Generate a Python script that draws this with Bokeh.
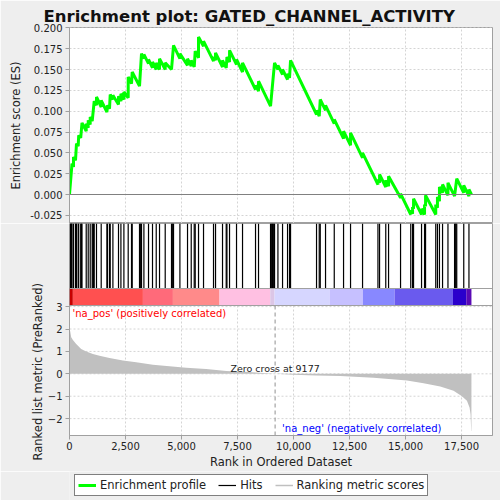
from bokeh.plotting import figure
from bokeh.models import (Range1d, FixedTicker, NumeralTickFormatter, Grid, Label,
                          Legend, Span, Title)
from bokeh.layouts import column
from bokeh.embed import file_html
from bokeh.resources import INLINE

# ---------------- data ----------------
title_text = "Enrichment plot: GATED_CHANNEL_ACTIVITY"
n_genes = 17940
zero_cross = 9177

hit_ranks = [45, 67, 89, 112, 179, 268, 290, 312, 388, 411, 500, 531, 558, 746, 835,
             924, 1013, 1045, 1071, 1103, 1205, 1415, 1670, 1696, 1786, 1817, 1937,
             2187, 2295, 2428, 2620, 2768, 2799, 3125, 3156, 3187, 3214, 3321, 3527,
             3705, 3871, 4018, 4272, 4553, 4585, 4616, 4643, 4928, 5268, 5433, 5567,
             5611, 5759, 5982, 6428, 6518, 6830, 6995, 7027, 7143, 7455, 7723, 8303,
             8437, 8973, 9004, 9035, 9062, 9093, 9125, 9152, 9303, 9509, 9732, 9821,
             9866, 11026, 11147, 11192, 11428, 11817, 12232, 12544, 13080, 13767,
             13839, 14116, 14241, 14776, 15231, 15312, 15356, 15713, 15847, 15892,
             16347, 16423, 16512, 16651, 16892, 17187, 17218, 17249, 17284, 17597,
             17829]

es_ranks = [0, 112, 179, 179, 268, 312, 388, 411, 500, 558, 746, 746, 835, 835, 924, 924,
            1013, 1103, 1205, 1205, 1415, 1415, 1670, 1696, 1786, 1817, 1937, 1937,
            2187, 2187, 2295, 2295, 2428, 2428, 2620, 2620, 2768, 2799, 3125, 3214,
            3321, 3321, 3527, 3527, 3705, 3705, 3871, 3871, 4018, 4018, 4272, 4272,
            4553, 4643, 4928, 4928, 5268, 5268, 5433, 5433, 5567, 5611, 5759, 5759,
            5982, 5982, 6428, 6428, 6518, 6518, 6830, 6830, 6995, 7027, 7143, 7143,
            7455, 7455, 7723, 7723, 8303, 8303, 8437, 8437, 8973, 9152, 9303, 9303,
            9509, 9509, 9732, 9732, 9821, 9866, 11026, 11026, 11147, 11192, 11428,
            11428, 11817, 11817, 12232, 12232, 12544, 12544, 13080, 13080, 13767,
            13767, 13839, 13839, 14116, 14116, 14241, 14241, 14776, 14776, 15231,
            15231, 15312, 15312, 15356, 15356, 15713, 15713, 15847, 15847, 15892,
            15892, 16347, 16347, 16423, 16423, 16512, 16512, 16651, 16651, 16892,
            16892, 17187, 17284, 17597, 17597, 17829, 17829, 17940]
es_values = [0.000, 0.037, 0.033, 0.045, 0.041, 0.061, 0.058, 0.071, 0.068, 0.086,
             0.076, 0.085, 0.080, 0.089, 0.084, 0.093, 0.088, 0.112, 0.107, 0.117,
             0.105, 0.113, 0.099, 0.107, 0.103, 0.120, 0.114, 0.119, 0.108, 0.118,
             0.112, 0.121, 0.114, 0.123, 0.116, 0.141, 0.133, 0.147, 0.130, 0.169,
             0.163, 0.168, 0.157, 0.162, 0.152, 0.159, 0.150, 0.158, 0.150, 0.163,
             0.150, 0.158, 0.150, 0.179, 0.163, 0.169, 0.155, 0.163, 0.154, 0.161,
             0.153, 0.172, 0.164, 0.189, 0.178, 0.184, 0.160, 0.165, 0.161, 0.170,
             0.153, 0.161, 0.152, 0.165, 0.159, 0.173, 0.156, 0.162, 0.147, 0.158,
             0.126, 0.131, 0.124, 0.136, 0.106, 0.158, 0.150, 0.155, 0.144, 0.150,
             0.138, 0.145, 0.140, 0.161, 0.096, 0.101, 0.094, 0.114, 0.101, 0.107,
             0.085, 0.090, 0.067, 0.076, 0.059, 0.074, 0.044, 0.050, 0.012, 0.018,
             0.014, 0.024, 0.009, 0.017, 0.010, 0.022, -0.004, 0.001, -0.024, -0.019,
             -0.023, -0.015, -0.017, -0.005, -0.024, -0.017, -0.024, -0.012, -0.014,
             -0.001, -0.024, -0.012, -0.016, -0.003, -0.008, 0.009, 0.002, 0.012,
             -0.001, 0.014, -0.002, 0.019, 0.002, 0.011, -0.002, 0.006, 0.000]

metric_ranks = [0, 31, 76, 152, 299, 522, 746, 1045, 1339, 1786, 2384, 2977, 3723,
                4464, 5210, 6102, 7000, 8000, 8800, 9177, 10000, 11000, 12084, 13571,
                15062, 15803, 16548, 17142, 17517, 17739, 17856, 17900, 17930, 17940]
metric_values = [1.95, 1.90, 1.63, 1.51, 1.33, 1.11, 1.00, 0.89, 0.81, 0.71, 0.59, 0.52,
                 0.41, 0.34, 0.27, 0.22, 0.13, 0.08, 0.03, 0.0, -0.04, -0.07, -0.10,
                 -0.17, -0.30, -0.42, -0.57, -0.75, -1.00, -1.20, -1.50, -1.80, -2.55,
                 -2.55]

bar_edges = [0, 150, 3277, 4616, 6696, 8959, 9152, 11607, 13098, 14509, 17115, 17710,
             17940]
bar_colors = ["#c80000", "#ff5050", "#ff6a7a", "#ff8a8a", "#ffc0e2", "#dcc6e6",
              "#d6d6ff", "#c6c0ff", "#8888ff", "#6a5aee", "#2a00cc", "#5a0ab4"]

x_ticks = [0, 2500, 5000, 7500, 10000, 12500, 15000, 17500]
es_ticks = [-0.025, 0.0, 0.025, 0.05, 0.075, 0.1, 0.125, 0.15, 0.175, 0.2]
metric_ticks = [-2, -1, 0, 1, 2, 3]
legend_labels = ["Enrichment profile", "Hits", "Ranking metric scores"]

# ---------------- style / layout ----------------
FONT = "DejaVu Sans"
BG = "#eeeeee"
EDGE = "#a0a0a0"
GRIDC = "#d4d4d4"
TXT = "#222222"
X_END = 18880
ES_LO, ES_HI = -0.0348, 0.2004
MET_LO, MET_HI = -2.753, 3.05
MET_PX, HITS_PX = 130, 82          # panel heights in the lower figure
FRAME_W = 423
LEFT = 69

xr = Range1d(0, X_END)


def style_axis(ax):
    ax.axis_line_color = EDGE
    ax.major_tick_line_color = EDGE
    ax.minor_tick_line_color = None
    ax.major_tick_in = 0
    ax.major_tick_out = 4
    ax.major_label_standoff = 3
    ax.major_label_text_font = FONT
    ax.major_label_text_font_size = "10px"
    ax.major_label_text_color = TXT
    ax.axis_label_text_font = FONT
    ax.axis_label_text_font_size = "11.5px"
    ax.axis_label_text_font_style = "normal"
    ax.axis_label_text_color = TXT
    ax.axis_label_standoff = 4


# ---- upper figure: title + running enrichment score ----
pa = figure(frame_width=FRAME_W, frame_height=196, x_range=xr,
            y_range=Range1d(ES_LO, ES_HI), x_axis_type=None,
            output_backend="svg", toolbar_location=None,
            min_border_left=LEFT, min_border_right=8, min_border_bottom=0,
            min_border_top=27, border_fill_color=BG, background_fill_color="white",
            outline_line_color=EDGE)
pa.title.text = title_text
pa.title.text_font = FONT
pa.title.text_font_size = "16.5px"
pa.title.text_font_style = "bold"
pa.title.text_color = "#111111"
pa.title.align = "left"
pa.title.offset = -26
pa.title.standoff = 4

pa.yaxis.ticker = FixedTicker(ticks=es_ticks)
pa.yaxis.formatter = NumeralTickFormatter(format="0.000")
pa.yaxis.axis_label = "Enrichment score (ES)"
style_axis(pa.yaxis[0])
pa.ygrid.ticker = FixedTicker(ticks=es_ticks)
pa.ygrid.grid_line_color = GRIDC
pa.ygrid.grid_line_dash = "2 2"
pa.add_layout(Grid(dimension=0, ticker=FixedTicker(ticks=x_ticks),
                   grid_line_color=GRIDC, grid_line_dash="2 2"))
pa.add_layout(Span(location=0, dimension="width", line_color="#808080", line_width=1))
pa.line(es_ranks, es_values, line_color="#00ff00", line_width=3)

# ---- lower figure: hits, colour bar, ranked metric ----
met_scale = MET_PX / (MET_HI - MET_LO)
pb = figure(frame_width=FRAME_W, frame_height=MET_PX + HITS_PX, x_range=xr,
            y_range=Range1d(MET_LO, MET_LO + (MET_PX + HITS_PX) / met_scale),
            output_backend="svg", toolbar_location=None,
            min_border_left=LEFT, min_border_right=8, min_border_top=0,
            min_border_bottom=0,
            border_fill_color=BG, background_fill_color="white",
            outline_line_color=EDGE)
pb.extra_y_ranges = {"hits": Range1d(-MET_PX / HITS_PX, 1.0)}
pb.xgrid.visible = False
pb.ygrid.visible = False

bar_top = 17 / HITS_PX
# grid of the metric panel
pb.segment(x0=x_ticks, y0=MET_LO, x1=x_ticks, y1=MET_HI, line_color=GRIDC,
           line_dash="2 2", line_width=1)
pb.segment(x0=0, y0=metric_ticks, x1=X_END, y1=metric_ticks, line_color=GRIDC,
           line_dash="2 2", line_width=1)
pb.varea(x=metric_ranks, y1=0, y2=metric_values, fill_color="#c0c0c0")
pb.segment(x0=[zero_cross], y0=MET_LO, x1=[zero_cross], y1=MET_HI,
           line_color="#909090", line_dash="4 3", line_width=1)

pb.quad(left=bar_edges[:-1], right=bar_edges[1:], bottom=0, top=bar_top,
        fill_color=bar_colors, line_color=None, y_range_name="hits")
pb.segment(x0=hit_ranks, y0=bar_top, x1=hit_ranks, y1=1.0,
           line_color="black", line_width=1.2, y_range_name="hits")
pb.add_layout(Span(location=bar_top, dimension="width", line_color=EDGE,
                   line_width=1, y_range_name="hits"))
pb.add_layout(Span(location=0, dimension="width", line_color=EDGE,
                   line_width=1, y_range_name="hits"))

pb.yaxis.ticker = FixedTicker(ticks=metric_ticks)
pb.yaxis.bounds = (MET_LO, MET_HI)
style_axis(pb.yaxis[0])
pb.xaxis.ticker = FixedTicker(ticks=x_ticks)
pb.xaxis.formatter = NumeralTickFormatter(format="0,0")
pb.xaxis.axis_label = "Rank in Ordered Dataset"
style_axis(pb.xaxis[0])
pb.xaxis.major_label_standoff = 2
pb.xaxis.axis_label_standoff = 2

# y-axis title of the metric panel: starts 25 px below the frame bottom, reads upward
pb.add_layout(Title(text="Ranked list metric (PreRanked)", align="left", offset=-25,
                    text_font=FONT, text_font_size="11.5px",
                    text_font_style="normal", text_color=TXT, standoff=0),
              "left")

pb.add_layout(Label(x=zero_cross, y=0, text="Zero cross at " + str(zero_cross),
                    text_align="center", text_baseline="bottom", text_font=FONT,
                    text_font_size="9.5px", text_color=TXT))
pb.add_layout(Label(x=0, y=MET_HI, x_offset=3, y_offset=-2,
                    text="'na_pos' (positively correlated)", text_align="left",
                    text_baseline="top", text_font=FONT, text_font_size="10px",
                    text_color="#ff0000"))
pb.add_layout(Label(x=zero_cross, y=MET_LO, x_offset=7, y_offset=2,
                    text="'na_neg' (negatively correlated)", text_align="left",
                    text_baseline="bottom", text_font=FONT, text_font_size="10px",
                    text_color="#0000ff"))

# ---- legend strip (key lines lie outside its visible range) ----
pc = figure(frame_width=500, frame_height=29, x_axis_type=None, y_axis_type=None,
            x_range=Range1d(0, 1), y_range=Range1d(0, 1),
            output_backend="svg", toolbar_location=None, min_border=0,
            border_fill_color=BG, background_fill_color=BG, outline_line_color=None)
key_x = [-3, -2]
key_y = [-3, -2]
k_es = pc.line(key_x, key_y, line_color="#00ff00", line_width=3)
k_hits = pc.line(key_x, key_y, line_color="black", line_width=1.2)
k_met = pc.line(key_x, key_y, line_color="#c0c0c0", line_width=1.5)
legend = Legend(items=[(legend_labels[0], [k_es]), (legend_labels[1], [k_hits]),
                       (legend_labels[2], [k_met])],
                orientation="horizontal", location=(74, 4),
                label_text_font=FONT, label_text_font_size="11.5px",
                label_text_color=TXT, border_line_color="black",
                border_line_width=1, background_fill_color="white",
                padding=3, spacing=12, margin=0, label_standoff=4,
                label_height=14, glyph_width=18, glyph_height=14)
pc.add_layout(legend)

layout = column(pa, pb, pc, spacing=0)
open("out.html", "w").write(file_html(layout, INLINE))
